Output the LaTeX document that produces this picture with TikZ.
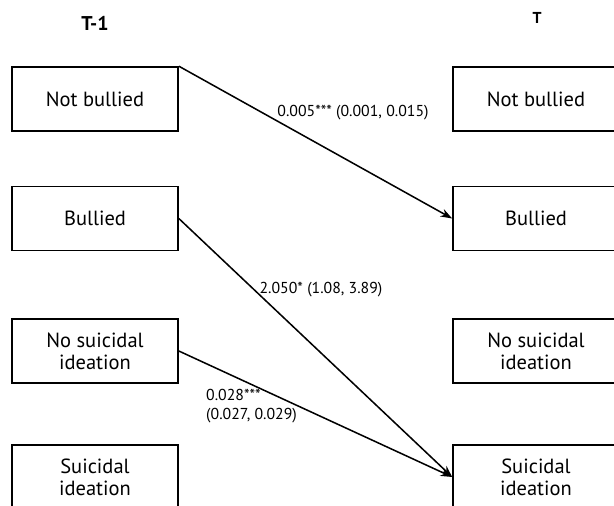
\documentclass[tikz,border=0pt]{standalone}
\usepackage{fontspec}
\setmainfont{PT Sans}
\usetikzlibrary{arrows.meta, positioning}

\begin{document}
\begin{tikzpicture}[x = 0.03cm, y = -0.03cm,
    stato/.style = {draw, line width = 1.4pt, minimum width = 4.98cm, minimum height = 1.92cm, inner sep = 0pt, align = center, font = \fontsize{17.5}{18.7}\selectfont},
    freccia/.style = {-{Stealth[length = 10pt, width = 7pt]}, line width = 1.3pt},
    coeff/.style = {font = \fontsize{13.5}{16}\selectfont, inner sep = 0pt}]
    % Parameters
    \pgfmathsetmacro{\xsx}{95}
    \pgfmathsetmacro{\xdx}{536}
    \useasboundingbox (0,0) rectangle (614,506);
    \clip (0,0) rectangle (614,506);
    % Time labels
    \node[font = \bfseries\fontsize{17}{19}\selectfont] (tprima) at (\xsx,23){T-1};
    \node[font = \bfseries\fontsize{13.5}{16}\selectfont] (tdopo) at (537,18){T};
    % States at T-1
    \node[stato] (nb1) at (\xsx,99){Not bullied};
    \node[stato] (b1) at (\xsx,218.5){Bullied};
    \node[stato] (ns1) at (\xsx,351){No suicidal\\ideation};
    \node[stato] (s1) at (\xsx,477){Suicidal\\ideation};
    % States at T
    \node[stato] (nb2) at (\xdx,99){Not bullied};
    \node[stato] (b2) at (\xdx,218.5){Bullied};
    \node[stato] (ns2) at (\xdx,351){No suicidal\\ideation};
    \node[stato] (s2) at (\xdx,477){Suicidal\\ideation};
    % Transitions
    \draw[freccia] (nb1.north east) -- (b2.west);
    \draw[freccia] (b1.east) -- (s2.west);
    \draw[freccia] (ns1.east) -- (s2.west);
    % Coefficients
    \node[coeff] (c1) at (353,113){0.005*** (0.001, 0.015)};
    \node[coeff] (c2) at (321,290){2.050* (1.08, 3.89)};
    \node[coeff, anchor = north west, align = left] (c3) at (206,389){0.028***\\(0.027, 0.029)};
\end{tikzpicture}
\end{document}
